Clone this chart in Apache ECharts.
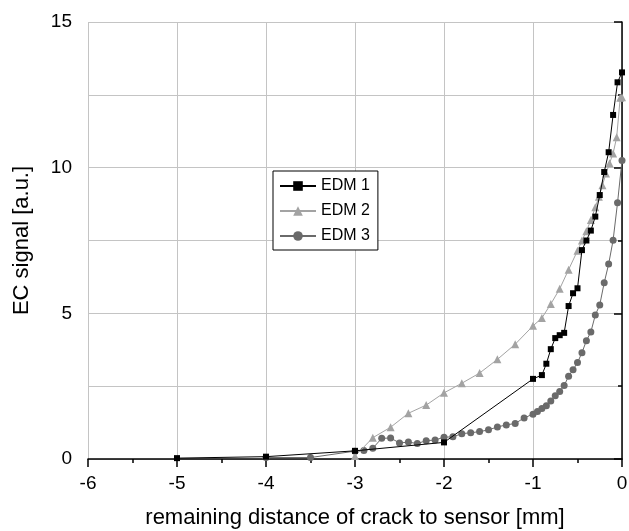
<!DOCTYPE html>
<html lang="en">
<head>
    <meta charset="UTF-8">
    <title>EC signal</title>
    <script src="https://cdn.jsdelivr.net/npm/echarts@6/dist/echarts.min.js"></script>
    <style type="text/css">
        body{
            margin:0;
        }
    </style>
</head>
<body>
<div id="main" style="width: 629px;height:531px;"></div>
<script type="text/javascript">
    // EDM 1 (black squares)
    var edm1X = [-5, -4, -3, -2, -1, -0.9, -0.85, -0.8, -0.75, -0.7, -0.65, -0.6, -0.55, -0.5, -0.45, -0.4, -0.35, -0.3, -0.25, -0.2, -0.15, -0.1, -0.05, 0];
    var edm1Y = [0.03, 0.08, 0.28, 0.57, 2.75, 2.88, 3.27, 3.77, 4.15, 4.25, 4.33, 5.25, 5.69, 5.86, 7.17, 7.5, 7.84, 8.32, 9.06, 9.85, 10.53, 11.81, 12.93, 13.27];
    // EDM 2 (light grey triangles)
    var edm2X = [-3, -2.8, -2.6, -2.4, -2.2, -2, -1.8, -1.6, -1.4, -1.2, -1, -0.9, -0.8, -0.7, -0.6, -0.5, -0.45, -0.4, -0.35, -0.3, -0.26, -0.22, -0.18, -0.14, -0.1, -0.06, -0.02, 0];
    var edm2Y = [0.1, 0.73, 1.09, 1.57, 1.85, 2.27, 2.6, 2.95, 3.42, 3.94, 4.57, 4.84, 5.32, 5.84, 6.5, 7.15, 7.5, 7.82, 8.2, 8.64, 9.0, 9.4, 9.8, 10.15, 10.49, 11.04, 12.4, 12.42];
    // EDM 3 (dark grey circles)
    var edm3X = [-4, -3.5, -3, -2.9, -2.8, -2.7, -2.6, -2.5, -2.4, -2.3, -2.2, -2.1, -2, -1.9, -1.8, -1.7, -1.6, -1.5, -1.4, -1.3, -1.2, -1.1, -1, -0.95, -0.9, -0.85, -0.8, -0.75, -0.7, -0.65, -0.6, -0.55, -0.5, -0.45, -0.4, -0.35, -0.3, -0.25, -0.2, -0.15, -0.1, -0.05, 0];
    var edm3Y = [0.05, 0.05, 0.27, 0.29, 0.37, 0.71, 0.72, 0.55, 0.58, 0.53, 0.63, 0.65, 0.75, 0.76, 0.87, 0.9, 0.94, 1.0, 1.1, 1.17, 1.22, 1.41, 1.54, 1.63, 1.73, 1.83, 1.99, 2.17, 2.32, 2.52, 2.84, 3.06, 3.31, 3.65, 4.06, 4.36, 4.94, 5.29, 6.05, 6.69, 7.51, 8.8, 10.25];

    function pairs(xs, ys) {
        var out = [];
        for (var i = 0; i < xs.length; i++) {
            out.push([xs[i], ys[i]]);
        }
        return out;
    }

    var font = 'Liberation Sans, Arial, sans-serif';
    var myChart = echarts.init(document.getElementById('main'));
    var option = {
        animation: false,
        backgroundColor: '#fff',
        textStyle: { fontFamily: font },
        grid: { left: 88, right: 7, top: 22, bottom: 72, outerBoundsMode: 'none' },
        legend: {
            left: 273,
            top: 171,
            orient: 'vertical',
            backgroundColor: '#fff',
            borderColor: '#000',
            borderWidth: 1,
            borderRadius: 0,
            padding: [6, 8, 5, 6],
            itemWidth: 36,
            itemHeight: 12,
            itemGap: 7,
            textStyle: { fontSize: 16, color: '#000', fontFamily: font, lineHeight: 18 },
            data: ['EDM 1', 'EDM 2', 'EDM 3']
        },
        xAxis: {
            type: 'value',
            min: -6,
            max: 0,
            interval: 1,
            name: 'remaining distance of crack to sensor [mm]',
            nameLocation: 'middle',
            nameGap: 48,
            nameTextStyle: { fontSize: 22, color: '#000', fontFamily: font },
            axisLine: { onZero: false, lineStyle: { color: '#000', width: 1.5 } },
            axisTick: { inside: false, length: 8, lineStyle: { color: '#000', width: 1.5 } },
            minorTick: { show: true, splitNumber: 2, length: 4, lineStyle: { color: '#000', width: 1.5 } },
            axisLabel: { fontSize: 19, color: '#000', margin: 15, fontFamily: font },
            splitLine: { show: true, lineStyle: { color: '#c4c4c4', width: 1 } }
        },
        yAxis: {
            type: 'value',
            min: 0,
            max: 15,
            interval: 5,
            name: 'EC signal [a.u.]',
            nameLocation: 'middle',
            nameGap: 55,
            nameTextStyle: { fontSize: 22, color: '#000', fontFamily: font },
            axisLine: { show: true, lineStyle: { color: '#000', width: 1.5 } },
            axisTick: { show: true, length: 8, lineStyle: { color: '#000', width: 1.5 } },
            minorTick: { show: true, splitNumber: 2, length: 4, lineStyle: { color: '#000', width: 1.5 } },
            axisLabel: { fontSize: 19, color: '#000', margin: 16, fontFamily: font },
            splitLine: { show: true, lineStyle: { color: '#c4c4c4', width: 1 } },
            minorSplitLine: { show: true, lineStyle: { color: '#c4c4c4', width: 1 } }
        },
        series: [
            {
                name: 'EDM 3',
                type: 'line',
                data: pairs(edm3X, edm3Y),
                symbol: 'circle',
                symbolSize: 7,
                itemStyle: { color: '#6a6a6a' },
                lineStyle: { color: '#6a6a6a', width: 1 },
                z: 2
            },
            {
                name: 'EDM 2',
                type: 'line',
                data: pairs(edm2X, edm2Y),
                symbol: 'triangle',
                symbolSize: 8,
                itemStyle: { color: '#a3a3a3' },
                lineStyle: { color: '#a3a3a3', width: 1 },
                z: 3
            },
            {
                name: 'EDM 1',
                type: 'line',
                data: pairs(edm1X, edm1Y),
                symbol: 'rect',
                symbolSize: 6,
                itemStyle: { color: '#000' },
                lineStyle: { color: '#000', width: 1 },
                z: 4
            }
        ]
    };
    myChart.setOption(option);
</script>
</body>
</html>
